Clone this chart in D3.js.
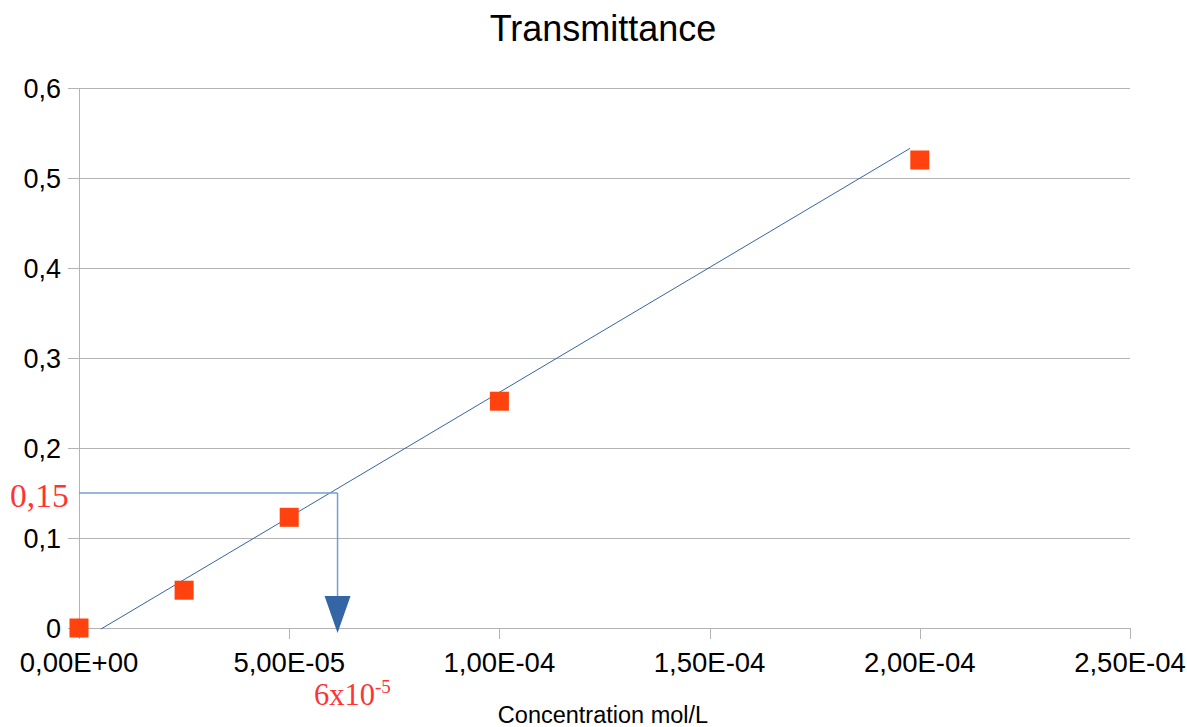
<!DOCTYPE html>
<html>
<head>
<meta charset="utf-8">
<script src="https://cdn.jsdelivr.net/npm/d3@7"></script>
<style>
  body { margin: 0; background: #fff; }
  svg { display: block; font-family: 'Liberation Sans', Arial, sans-serif; }
</style>
</head>
<body>
<div id="graf"></div>
<script>
// data
const concentrations = [0, 2.5e-5, 5e-5, 1e-4, 2e-4]
const transmittance = [0, 0.042, 0.123, 0.252, 0.52]
const trendX = [5.2e-6, 1.977e-4]
const trendY = [-0.0012, 0.533]
const readX = 6.15e-5
const readY = 0.15
const xTicks = [0, 5e-5, 1e-4, 1.5e-4, 2e-4, 2.5e-4]
const xTickLabels = ['0,00E+00', '5,00E-05', '1,00E-04', '1,50E-04', '2,00E-04', '2,50E-04']
const yTicks = [0, 0.1, 0.2, 0.3, 0.4, 0.5, 0.6]
const yTickLabels = ['0', '0,1', '0,2', '0,3', '0,4', '0,5', '0,6']

const anchoTotal = 1187
const altoTotal = 727
const margin = { top: 88, left: 79, right: 57, bottom: 99 }
const ancho = anchoTotal - margin.left - margin.right
const alto = altoTotal - margin.top - margin.bottom

const svg = d3.select('#graf')
  .append('svg')
  .attr('width', anchoTotal)
  .attr('height', altoTotal)

const g = svg.append('g')
  .attr('transform', `translate(${margin.left}, ${margin.top})`)

const x = d3.scaleLinear().domain([0, 2.5e-4]).range([0, ancho])
const y = d3.scaleLinear().domain([0, 0.6]).range([alto, 0])

// grid
g.selectAll('.grid')
  .data(yTicks)
  .enter()
  .append('line')
  .attr('x1', -11)
  .attr('x2', ancho)
  .attr('y1', (d) => Math.round(y(d)) + 0.5)
  .attr('y2', (d) => Math.round(y(d)) + 0.5)
  .attr('stroke', '#b3b3b3')
  .attr('stroke-width', 1)

// y axis line
g.append('line')
  .attr('x1', 0.5).attr('x2', 0.5)
  .attr('y1', 0).attr('y2', alto + 11)
  .attr('stroke', '#b3b3b3')

// x ticks
g.selectAll('.xtick')
  .data(xTicks)
  .enter()
  .append('line')
  .attr('x1', (d) => Math.round(x(d)) + 0.5)
  .attr('x2', (d) => Math.round(x(d)) + 0.5)
  .attr('y1', alto)
  .attr('y2', alto + 11)
  .attr('stroke', '#b3b3b3')

g.selectAll('.xlab')
  .data(xTicks)
  .enter()
  .append('text')
  .attr('x', (d) => x(d))
  .attr('y', alto + 44)
  .attr('text-anchor', 'middle')
  .attr('font-size', 27.5)
  .attr('fill', '#000')
  .text((d, i) => xTickLabels[i])

g.selectAll('.ylab')
  .data(yTicks)
  .enter()
  .append('text')
  .attr('x', -18)
  .attr('y', (d) => y(d) + 10)
  .attr('text-anchor', 'end')
  .attr('font-size', 27)
  .attr('fill', '#000')
  .text((d, i) => yTickLabels[i])

// trend line
g.append('line')
  .attr('x1', x(trendX[0]))
  .attr('y1', y(trendY[0]))
  .attr('x2', x(trendX[1]))
  .attr('y2', y(trendY[1]))
  .attr('stroke', '#3465a4')
  .attr('stroke-width', 1)

// reading guide
g.append('line')
  .attr('x1', 0)
  .attr('x2', x(readX))
  .attr('y1', y(readY))
  .attr('y2', y(readY))
  .attr('stroke', '#729fcf')
  .attr('stroke-width', 1.5)

g.append('line')
  .attr('x1', x(readX))
  .attr('x2', x(readX))
  .attr('y1', y(readY))
  .attr('y2', alto - 30)
  .attr('stroke', '#729fcf')
  .attr('stroke-width', 1.5)

g.append('path')
  .attr('d', `M${x(readX) - 13},${alto - 32} L${x(readX) + 13},${alto - 32} L${x(readX)},${alto + 5} Z`)
  .attr('fill', '#3465a4')

// points
const s = 19
g.selectAll('rect.pt')
  .data(concentrations)
  .enter()
  .append('rect')
  .attr('class', 'pt')
  .attr('x', (d) => x(d) - s / 2)
  .attr('y', (d, i) => y(transmittance[i]) - s / 2)
  .attr('width', s)
  .attr('height', s)
  .attr('fill', '#ff420e')

// red annotations
svg.append('text')
  .attr('x', 10)
  .attr('y', 507)
  .attr('font-family', "'Liberation Serif', serif")
  .attr('font-size', 33.5)
  .attr('fill', '#ff3333')
  .text('0,15')

const t6 = svg.append('text')
  .attr('x', 314)
  .attr('y', 705)
  .attr('font-family', "'Liberation Serif', serif")
  .attr('font-size', 30.5)
  .attr('fill', '#ff3333')
t6.append('tspan').text('6x10')
t6.append('tspan').attr('font-size', 19).attr('dy', -12).text('-5')

// titles
svg.append('text')
  .attr('x', 603)
  .attr('y', 41)
  .attr('text-anchor', 'middle')
  .attr('font-size', 36)
  .text('Transmittance')

svg.append('text')
  .attr('x', 603)
  .attr('y', 723)
  .attr('text-anchor', 'middle')
  .attr('font-size', 23.5)
  .text('Concentration mol/L')
</script>
</body>
</html>
